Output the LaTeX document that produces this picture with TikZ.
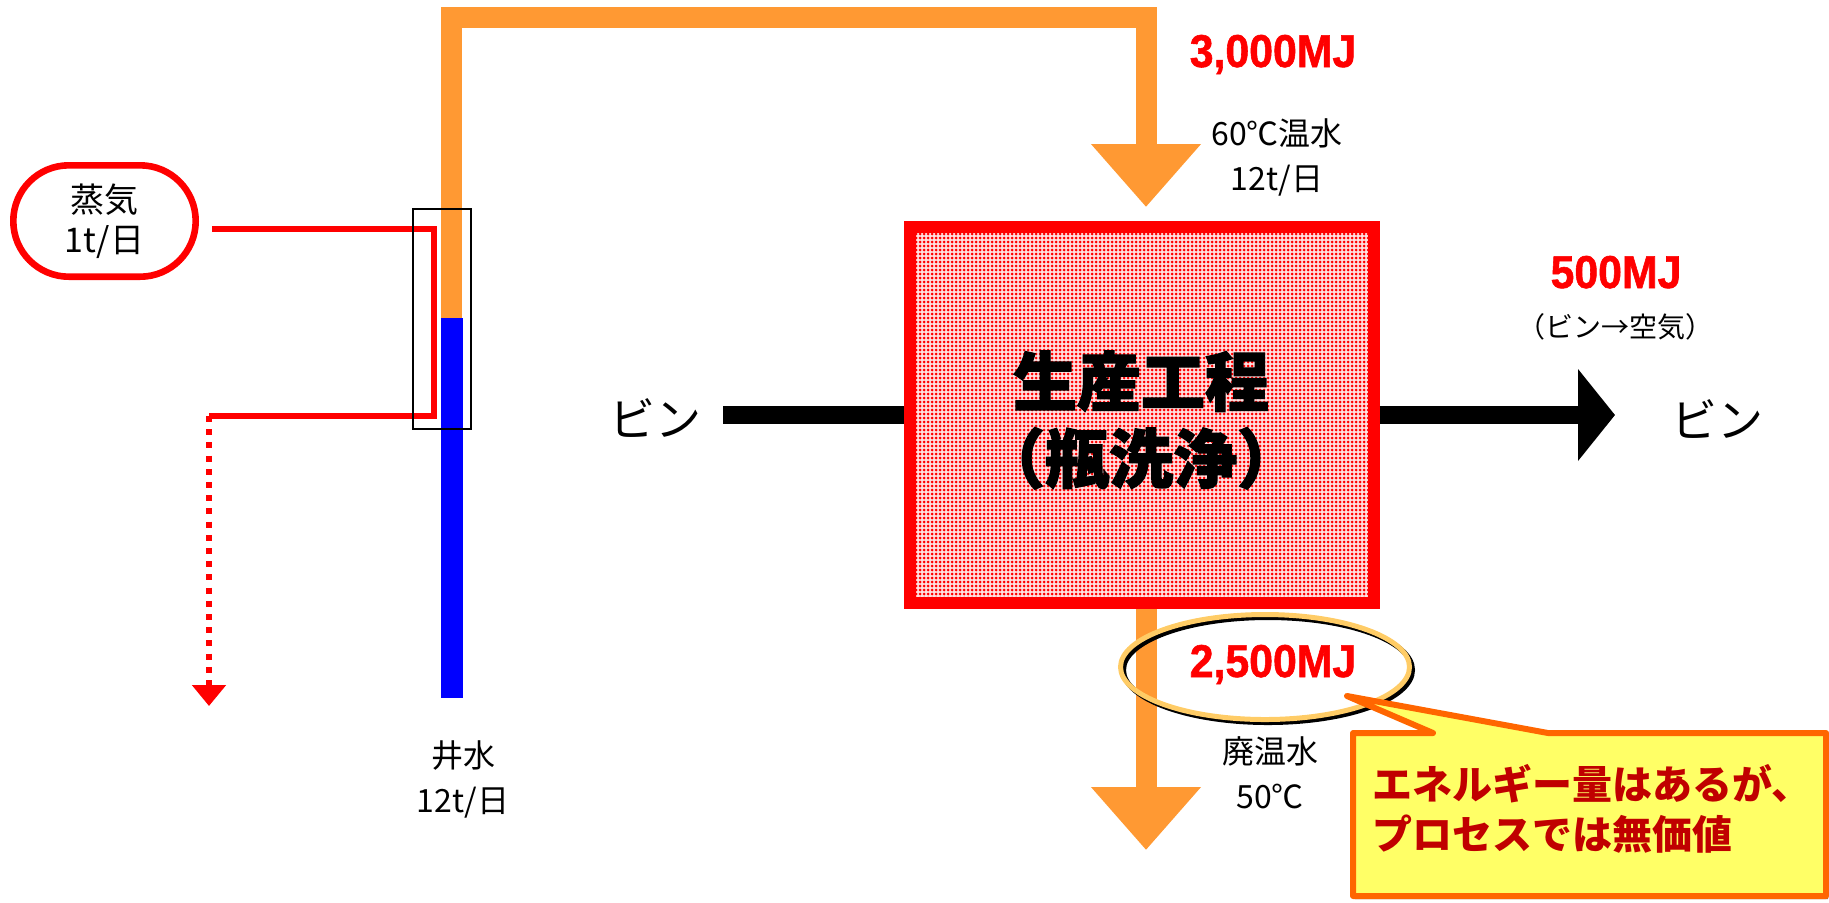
\documentclass[tikz,border=0pt]{standalone}
\usepackage{fontspec}
\newfontfamily\jp{Noto Sans CJK JP}
\newfontfamily\jpheavy[FakeBold=2.2]{Noto Sans CJK JP}
\newfontfamily\numf[FakeStretch=0.93,FakeBold=1.2]{Liberation Sans}
\usetikzlibrary{arrows.meta,patterns.meta,shapes.geometric}
\definecolor{pipeor}{RGB}{255,153,51}
\definecolor{calloutfill}{RGB}{255,255,102}
\definecolor{calloutdraw}{RGB}{255,102,0}
\definecolor{callouttext}{RGB}{192,0,0}
\definecolor{ringcol}{RGB}{255,204,102}
\definecolor{pureblue}{RGB}{0,0,255}
\definecolor{purered}{RGB}{255,0,0}
\definecolor{pinkbg}{RGB}{255,225,225}
\tikzdeclarepattern{
  name=pinkdots,
  type=uncolored,
  bottom left={(-1pt,-1pt)},
  top right={(1pt,1pt)},
  tile size={(2pt,2pt)},
  code={\fill (0pt,0pt) circle (0.75pt);}
}
\begin{document}
\begin{tikzpicture}[x=0.5pt,y=-0.5pt,
  lbl/.style={font=\jp\fontsize{16}{22.5}\selectfont, align=center, inner sep=0pt},
  mj/.style={font=\numf\bfseries\fontsize{23}{27}\selectfont, text=purered, inner sep=0pt, anchor=base},
  pipe/.style={line width=10.5pt, draw=pipeor, line cap=butt},
  pipehead/.style={-{Triangle[length=31.5pt,width=53pt]}},
  steamline/.style={draw=purered, line width=3pt},
  bigbin/.style={font=\jp\fontsize{23}{27}\selectfont, inner sep=0pt},
  flowline/.style={line width=9pt, draw=black}
]
\useasboundingbox (0,0) rectangle (1829,902);

% coordinates
\coordinate (pipeMid) at (451.5,318);
\coordinate (pipeBot) at (451.5,698);
\coordinate (corner) at (1146,17.5);
\coordinate (inTip) at (1146,207);
\coordinate (outTop) at (1146,609);
\coordinate (outTip) at (1146,850);
\coordinate (sIn) at (212,229);
\coordinate (sTurnA) at (434,229);
\coordinate (sTurnB) at (434,416);
\coordinate (dropStart) at (209,416);
\coordinate (dropTip) at (209,706);
\coordinate (binIn) at (723,415);
\coordinate (binOut) at (1615,415);
\coordinate (ringShadow) at (1268,670);

% process box
\node[draw=purered, line width=6pt, preaction={fill=pinkbg}, pattern={pinkdots}, pattern color=purered,
      minimum width=232pt, minimum height=188pt, inner sep=0pt] (proc) at (1141.5,415) {};
\node[font=\jpheavy\bfseries\fontsize{32}{38.5}\selectfont, align=center, inner sep=0pt] (proctxt) at (1141,420) {生産工程\\（瓶洗浄）};

% pipes
\draw[pipe, pipehead] (pipeMid) |- (corner) -- (inTip);
\draw[line width=11pt, draw=pureblue] (pipeMid) -- (pipeBot);
\draw[pipe, pipehead] (outTop) -- (outTip);

% steam
\node[draw=purered, line width=3.3pt, rounded corners=27.8pt, minimum width=91.2pt, minimum height=55.7pt,
      inner sep=0pt, align=center, font=\jp\fontsize{17}{20}\selectfont] (steam) at (104.5,221) {蒸気\\1t/日};
\draw[steamline] (sIn) -- (sTurnA) -- (sTurnB) -- (dropStart);
\draw[steamline, dash pattern=on 3pt off 3.6pt, -{Triangle[length=10.5pt,width=16.5pt]}] (dropStart) -- (dropTip);

% heat exchanger frame
\node[draw=black, line width=1pt, minimum width=29pt, minimum height=110pt, inner sep=0pt] (hx) at (442,319) {};

% labels
\node[lbl] (well) at (463,779) {井水\\12t/日};
\node[mj] (mjin) at (1273,67) {3,000MJ};
\node[lbl] (hotlbl) at (1277,157.5) {60℃温水\\12t/日};
\node[mj] (mjair) at (1616,288) {500MJ};
\node[lbl, font=\jp\fontsize{14}{18}\selectfont] (airlbl) at (1615,327) {（ビン→空気）};
\node[lbl] (wastelbl) at (1270,772.5) {廃温水\\50℃};

% bottle flow
\node[bigbin] (binL) at (655,418) {ビン};
\node[bigbin] (binR) at (1717,419) {ビン};
\draw[flowline] (binIn) -- (proc.west);
\draw[flowline, -{Triangle[length=18.5pt,width=45pt]}] (proc.east) -- (binOut);

% highlight ring with dark shadow
\draw[black, line width=2.5pt] (ringShadow) ellipse [x radius=144.5, y radius=52.5];
\node[ellipse, draw=ringcol, line width=2.5pt, minimum width=144.5pt, minimum height=52.5pt, inner sep=0pt] (ring) at (1265,667) {};
\node[mj] (mjout) at (1273,677) {2,500MJ};

% callout
\draw[draw=calloutdraw, fill=calloutfill, line width=3pt, line join=round,
      preaction={fill=black!55, transform canvas={xshift=1pt,yshift=-1.5pt}}]
  (1353,733) -- (1433,733) -- (1347,696) -- (1548,733) -- (1826,733) -- (1826,896) -- (1353,896) -- cycle;
\node[anchor=west, align=left, inner sep=0pt, text=callouttext, font=\jp\bfseries\fontsize{20}{25}\selectfont] (callout) at (1372,809)
  {エネルギー量はあるが、\\プロセスでは無価値};
\end{tikzpicture}
\end{document}
